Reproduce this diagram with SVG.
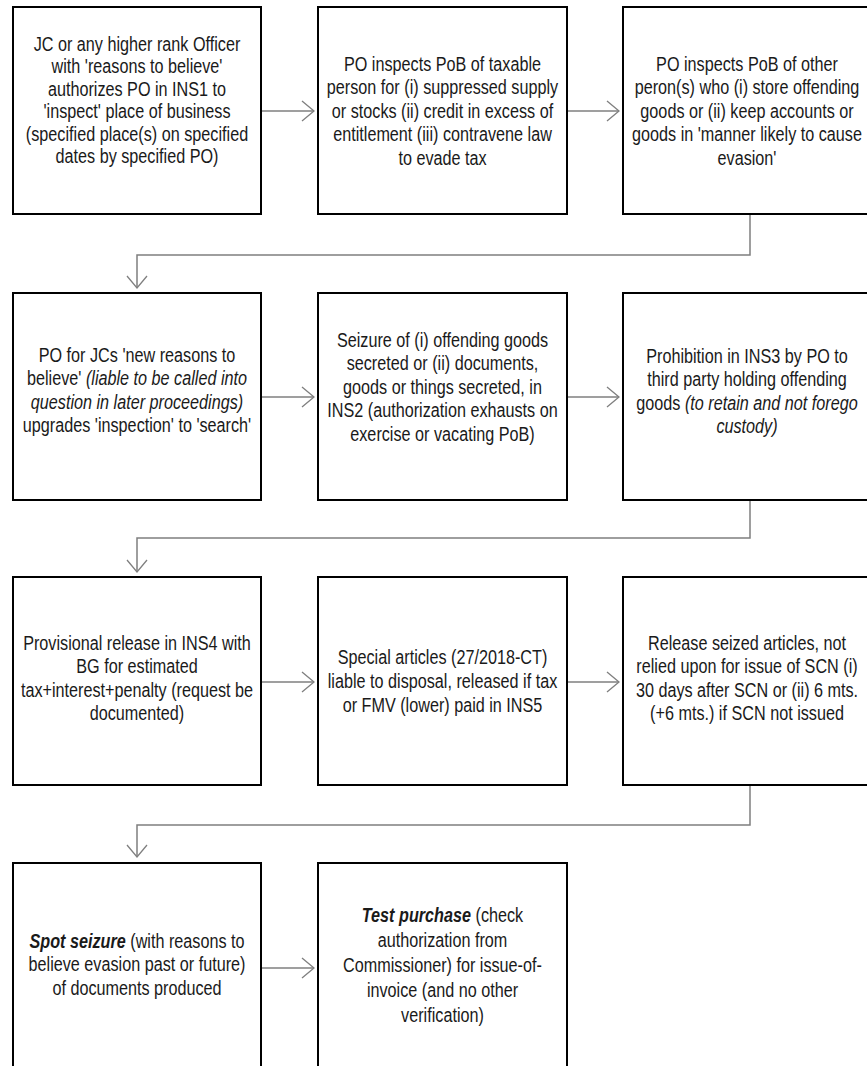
<svg xmlns="http://www.w3.org/2000/svg" width="867" height="1066" viewBox="0 0 867 1066">
<style>
.box{fill:#fff;stroke:#000;stroke-width:2}
.t{font-family:'Liberation Sans',Arial,sans-serif;font-size:20px;text-anchor:middle;fill:#1a1a1a}
.i{font-style:italic}
.bi{font-style:italic;font-weight:bold}
.conn{fill:none;stroke:#7f7f7f;stroke-width:1.5}
</style>
<defs>
<marker id="ah" markerUnits="userSpaceOnUse" markerWidth="14" markerHeight="22" viewBox="0 0 14 22" refX="13" refY="11" orient="auto">
<path d="M1,1 L13,11 L1,21" fill="none" stroke="#7f7f7f" stroke-width="1.3"/>
</marker>
</defs>
<rect width="867" height="1066" fill="#fff"/>
<g id="connectors">
<path class="conn" d="M261,111 H314" marker-end="url(#ah)"/>
<path class="conn" d="M567,111 H619" marker-end="url(#ah)"/>
<path class="conn" d="M750,214 V255 H137 V288" marker-end="url(#ah)"/>
<path class="conn" d="M261,397 H314" marker-end="url(#ah)"/>
<path class="conn" d="M567,397 H619" marker-end="url(#ah)"/>
<path class="conn" d="M750,500 V538 H137 V572" marker-end="url(#ah)"/>
<path class="conn" d="M261,682 H314" marker-end="url(#ah)"/>
<path class="conn" d="M567,682 H619" marker-end="url(#ah)"/>
<path class="conn" d="M750,785 V825 H137 V857" marker-end="url(#ah)"/>
<path class="conn" d="M261,968 H314" marker-end="url(#ah)"/>
</g>
<g id="n1">
<rect class="box" x="13" y="7" width="248" height="207"/>
<g transform="translate(137,0) scale(0.81,1)">
<text class="t" x="0" y="51">JC or any higher rank Officer</text>
<text class="t" x="0" y="73.5">with 'reasons to believe'</text>
<text class="t" x="0" y="96">authorizes PO in INS1  to</text>
<text class="t" x="0" y="118.5">'inspect' place of business</text>
<text class="t" x="0" y="141">(specified place(s) on specified</text>
<text class="t" x="0" y="163.5">dates by specified PO)</text>
</g>
</g>
<g id="n2">
<rect class="box" x="318" y="7" width="249" height="207"/>
<g transform="translate(442.5,0) scale(0.81,1)">
<text class="t" x="0" y="71">PO inspects PoB of taxable</text>
<text class="t" x="0" y="94.5">person for (i) suppressed supply</text>
<text class="t" x="0" y="118">or stocks (ii) credit in excess of</text>
<text class="t" x="0" y="141.5">entitlement (iii) contravene law</text>
<text class="t" x="0" y="165">to evade tax</text>
</g>
</g>
<g id="n3">
<rect class="box" x="623" y="7" width="249" height="207"/>
<g transform="translate(747,0) scale(0.81,1)">
<text class="t" x="0" y="71">PO inspects PoB of other</text>
<text class="t" x="0" y="94.5">peron(s) who (i) store offending</text>
<text class="t" x="0" y="118">goods or (ii) keep accounts or</text>
<text class="t" x="0" y="141.5">goods in 'manner likely to cause</text>
<text class="t" x="0" y="165">evasion'</text>
</g>
</g>
<g id="n4">
<rect class="box" x="13" y="293" width="248" height="207"/>
<g transform="translate(137,0) scale(0.81,1)">
<text class="t" x="0" y="362">PO for JCs 'new reasons to</text>
<text class="t" x="0" y="385.5">believe' <tspan class="i">(liable to be called into</tspan></text>
<text class="t i" x="0" y="409">question in later proceedings)</text>
<text class="t" x="0" y="432.5">upgrades 'inspection' to 'search'</text>
</g>
</g>
<g id="n5">
<rect class="box" x="318" y="293" width="249" height="207"/>
<g transform="translate(442.5,0) scale(0.81,1)">
<text class="t" x="0" y="347">Seizure of (i) offending goods</text>
<text class="t" x="0" y="370.5">secreted or (ii) documents,</text>
<text class="t" x="0" y="394">goods or things secreted, in</text>
<text class="t" x="0" y="417.5">INS2  (authorization exhausts on</text>
<text class="t" x="0" y="441">exercise or vacating PoB)</text>
</g>
</g>
<g id="n6">
<rect class="box" x="623" y="293" width="249" height="207"/>
<g transform="translate(747,0) scale(0.81,1)">
<text class="t" x="0" y="363">Prohibition in INS3 by PO to</text>
<text class="t" x="0" y="386.5">third party holding offending</text>
<text class="t" x="0" y="410">goods <tspan class="i">(to retain and not forego</tspan></text>
<text class="t i" x="0" y="433.5">custody)</text>
</g>
</g>
<g id="n7">
<rect class="box" x="13" y="577" width="248" height="208"/>
<g transform="translate(137,0) scale(0.81,1)">
<text class="t" x="0" y="650">Provisional release in INS4  with</text>
<text class="t" x="0" y="673.5">BG for estimated</text>
<text class="t" x="0" y="697">tax+interest+penalty (request be</text>
<text class="t" x="0" y="720.5">documented)</text>
</g>
</g>
<g id="n8">
<rect class="box" x="318" y="577" width="249" height="208"/>
<g transform="translate(442.5,0) scale(0.81,1)">
<text class="t" x="0" y="664">Special articles (27/2018-CT)</text>
<text class="t" x="0" y="688">liable to disposal, released if tax</text>
<text class="t" x="0" y="712">or FMV (lower) paid in INS5</text>
</g>
</g>
<g id="n9">
<rect class="box" x="623" y="577" width="249" height="208"/>
<g transform="translate(747,0) scale(0.81,1)">
<text class="t" x="0" y="650">Release seized articles, not</text>
<text class="t" x="0" y="673.5">relied upon for issue of SCN (i)</text>
<text class="t" x="0" y="697">30 days after SCN or (ii) 6 mts.</text>
<text class="t" x="0" y="720.5">(+6 mts.) if SCN  not issued</text>
</g>
</g>
<g id="n10">
<rect class="box" x="13" y="863" width="248" height="210"/>
<g transform="translate(137,0) scale(0.81,1)">
<text class="t" x="0" y="948"><tspan class="bi">Spot seizure</tspan> (with reasons to</text>
<text class="t" x="0" y="971.5">believe evasion past or future)</text>
<text class="t" x="0" y="995">of documents produced</text>
</g>
</g>
<g id="n11">
<rect class="box" x="318" y="863" width="249" height="210"/>
<g transform="translate(442.5,0) scale(0.81,1)">
<text class="t" x="0" y="922"><tspan class="bi">Test purchase</tspan> (check</text>
<text class="t" x="0" y="947">authorization from</text>
<text class="t" x="0" y="972">Commissioner) for issue-of-</text>
<text class="t" x="0" y="997">invoice (and no other</text>
<text class="t" x="0" y="1022">verification)</text>
</g>
</g>
</svg>
